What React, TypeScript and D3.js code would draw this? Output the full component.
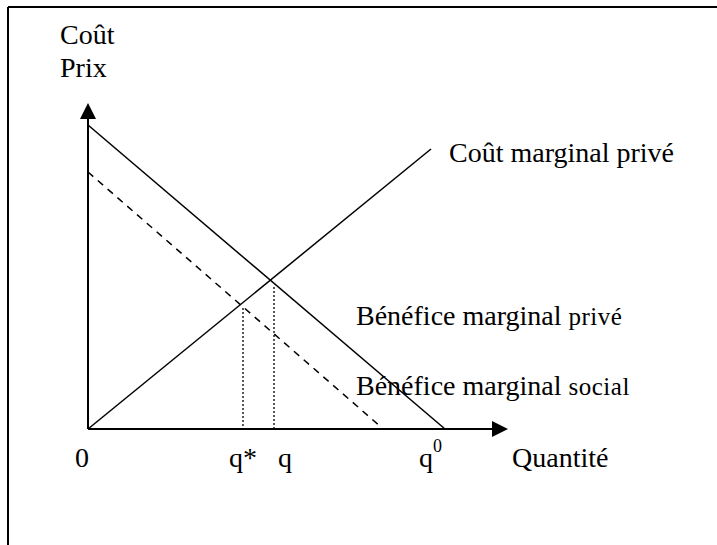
import * as d3 from "d3";
import React from "react";

// quantity / price in chart units
const quantityDomain = [0, 420];
const priceDomain = [0, 326];

// curves (quantity, price)
const privateBenefit: [number, number][] = [[0, 304], [357, 0]];
const socialBenefit: [number, number][] = [[0, 257], [293, 2]];
const privateCost: [number, number][] = [[0, 0], [343, 280]];

// equilibrium quantities and the price reached there
const equilibria = [
  { name: "q*", q: 155, p: 121 },
  { name: "q", q: 186, p: 142 },
];

const font = "'Liberation Serif', 'Times New Roman', serif";

export default function App() {
  const W = 717,
    H = 545;
  const x = d3.scaleLinear().domain(quantityDomain).range([88, 508]);
  const y = d3.scaleLinear().domain(priceDomain).range([429, 103]);
  const line = d3
    .line<[number, number]>()
    .x(d => x(d[0]))
    .y(d => y(d[1]));

  const x0 = x(0),
    y0 = y(0);
  const xEnd = x(quantityDomain[1]);
  const yEnd = y(priceDomain[1]);

  return (
    <svg width={W} height={H} style={{ position: "absolute", left: 0, top: 0 }} fontFamily={font}>
      {/* frame */}
      <line x1={8} y1={7} x2={W} y2={7} stroke="#000" strokeWidth={2} />
      <line x1={8} y1={7} x2={8} y2={H} stroke="#000" strokeWidth={2} />

      {/* axes */}
      <line x1={x0} y1={y0} x2={x0} y2={yEnd + 14} stroke="#000" strokeWidth={2} />
      <path d={`M${x0},${yEnd} L${x0 - 8},${yEnd + 16} L${x0 + 8},${yEnd + 16} Z`} fill="#000" />
      <line x1={x0} y1={y0} x2={xEnd - 14} y2={y0} stroke="#000" strokeWidth={2} />
      <path d={`M${xEnd},${y0} L${xEnd - 16},${y0 - 8} L${xEnd - 16},${y0 + 8} Z`} fill="#000" />

      {/* curves */}
      <path d={line(privateBenefit)!} stroke="#000" strokeWidth={1.5} fill="none" />
      <path d={line(socialBenefit)!} stroke="#000" strokeWidth={1.5} fill="none" strokeDasharray="7,6" />
      <path d={line(privateCost)!} stroke="#000" strokeWidth={1.5} fill="none" />

      {/* dotted guides */}
      {equilibria.map(e => (
        <line
          key={e.name}
          x1={x(e.q)}
          x2={x(e.q)}
          y1={y(e.p)}
          y2={y0}
          stroke="#000"
          strokeWidth={1.3}
          strokeDasharray="2,2"
        />
      ))}

      {/* labels */}
      <g fontSize={28} fill="#000">
        <text x={60} y={44}>Coût</text>
        <text x={60} y={77}>Prix</text>
        <text x={449} y={162}>Coût marginal privé</text>
        <text x={356} y={325}>
          Bénéfice marginal <tspan fontSize={25} letterSpacing={0.5}>privé</tspan>
        </text>
        <text x={356} y={395}>
          Bénéfice marginal <tspan fontSize={25} letterSpacing={0.5}>social</tspan>
        </text>

        <text x={x0 - 6} y={467} textAnchor="middle">0</text>
        <text x={x(equilibria[0].q)} y={467} textAnchor="middle">{equilibria[0].name}</text>
        <text x={x(equilibria[1].q) + 11} y={467} textAnchor="middle">{equilibria[1].name}</text>
        <text x={x(privateBenefit[1][0]) - 26} y={467}>
          q<tspan fontSize={18} dy={-15}>0</tspan>
        </text>
        <text x={512} y={467}>Quantité</text>
      </g>
    </svg>
  );
}
